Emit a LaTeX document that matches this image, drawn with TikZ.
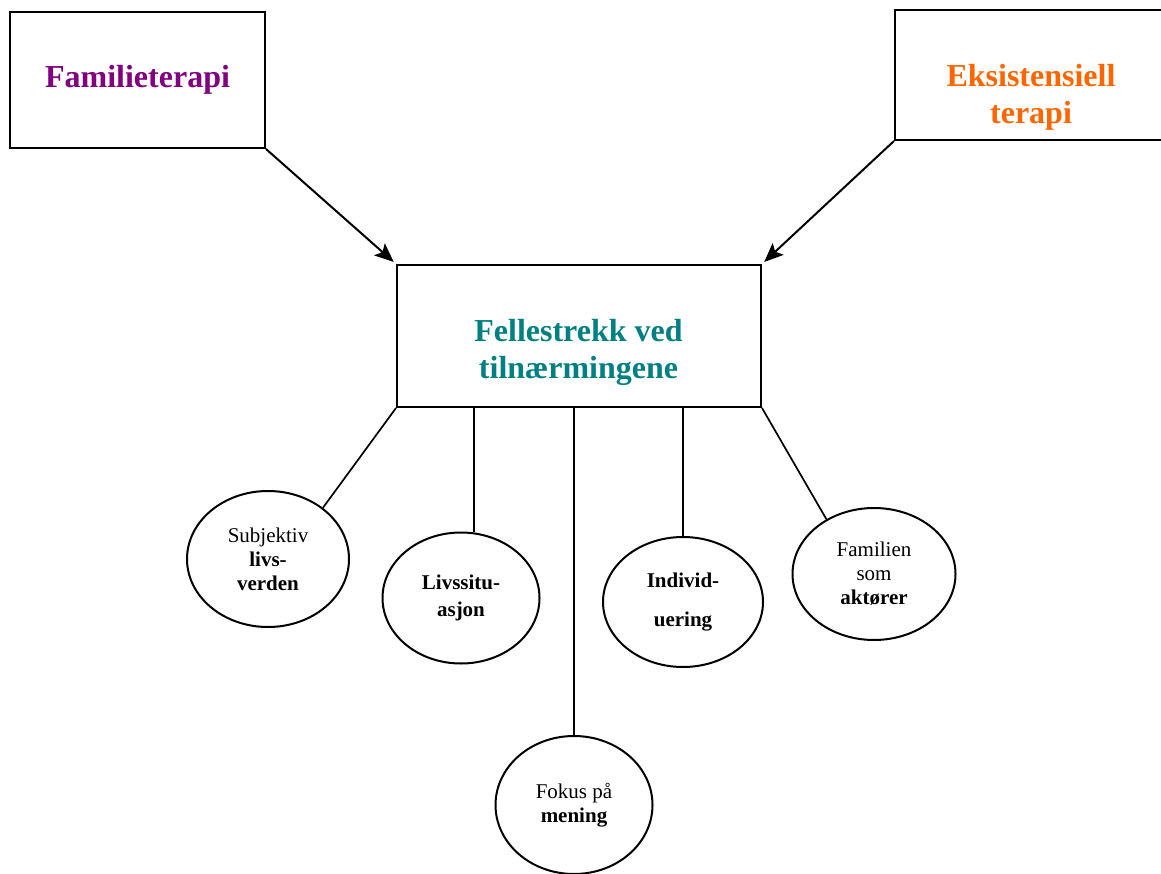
\documentclass[tikz,border=0pt]{standalone}
\usepackage{fontspec}
\setmainfont{Liberation Serif}
\usetikzlibrary{arrows.meta, shapes.geometric}

\definecolor{famPurple}{RGB}{128,0,128}
\definecolor{eksOrange}{RGB}{255,102,0}
\definecolor{fellesTeal}{RGB}{0,128,128}

\begin{document}
\begin{tikzpicture}[
    x=1pt, y=-1pt,
    line width=2pt,
    >={Stealth[length=19pt, width=16pt, inset=4pt]},
    framebox/.style={draw, rectangle, inner sep=0pt},
    headtext/.style={font=\fontsize{32}{37}\selectfont\bfseries, align=center},
    bubble/.style={draw, ellipse, inner sep=0pt, align=center,
        font=\fontsize{21}{24}\selectfont},
    link/.style={line width=1.7pt}
]
    \useasboundingbox (0,0) rectangle (1161,874);

    % The two approaches (top)
    \node[framebox, headtext, text=famPurple, minimum width=255pt, minimum height=136pt]
        (familie) at (137.5,80) {Familieterapi};
    \node[framebox, minimum width=270pt, minimum height=130pt] (eksist) at (1030,75) {};
    \node[headtext, text=eksOrange] (eksisttxt) at (1031,97) {Eksistensiell\\terapi};

    % Common ground (middle)
    \node[framebox, minimum width=364pt, minimum height=142pt] (felles) at (579,336) {};
    \node[headtext, text=fellesTeal] (fellestxt) at (578.5,352.5) {Fellestrekk ved\\tilnærmingene};

    % Arrows into the middle box
    \draw[->, shorten >=3pt] (familie.south east) -- (felles.north west);
    \draw[->, shorten >=3pt] (eksist.south west) -- (felles.north east);

    % The five common features
    \node[bubble, minimum width=162pt, minimum height=136pt] (subj) at (268,559)
        {Subjektiv\\\textbf{livs-}\\\textbf{verden}};
    \node[bubble, minimum width=157pt, minimum height=131pt,
        font=\fontsize{21}{27}\selectfont\bfseries] (liv) at (461,598) {Livssitu-\\asjon};
    \node[bubble, minimum width=157pt, minimum height=138pt] (fok) at (574,805)
        {Fokus på\\\textbf{mening}};
    \node[bubble, minimum width=160pt, minimum height=130pt,
        font=\fontsize{21}{39}\selectfont\bfseries] (indiv) at (683,602) {Individ-\\uering};
    \node[bubble, minimum width=163pt, minimum height=132pt] (famakt) at (874,574)
        {Familien\\som\\\textbf{aktører}};

    % Lines down from the middle box
    \draw[link] (felles.south west) -- (subj.43);
    \draw[link] (liv.79) -- (liv.79 |- felles.south);
    \foreach \b in {fok, indiv}
        \draw[link] (\b.north) -- (\b.north |- felles.south);
    \draw[link] (felles.south east) -- (famakt.131);

\end{tikzpicture}
\end{document}
